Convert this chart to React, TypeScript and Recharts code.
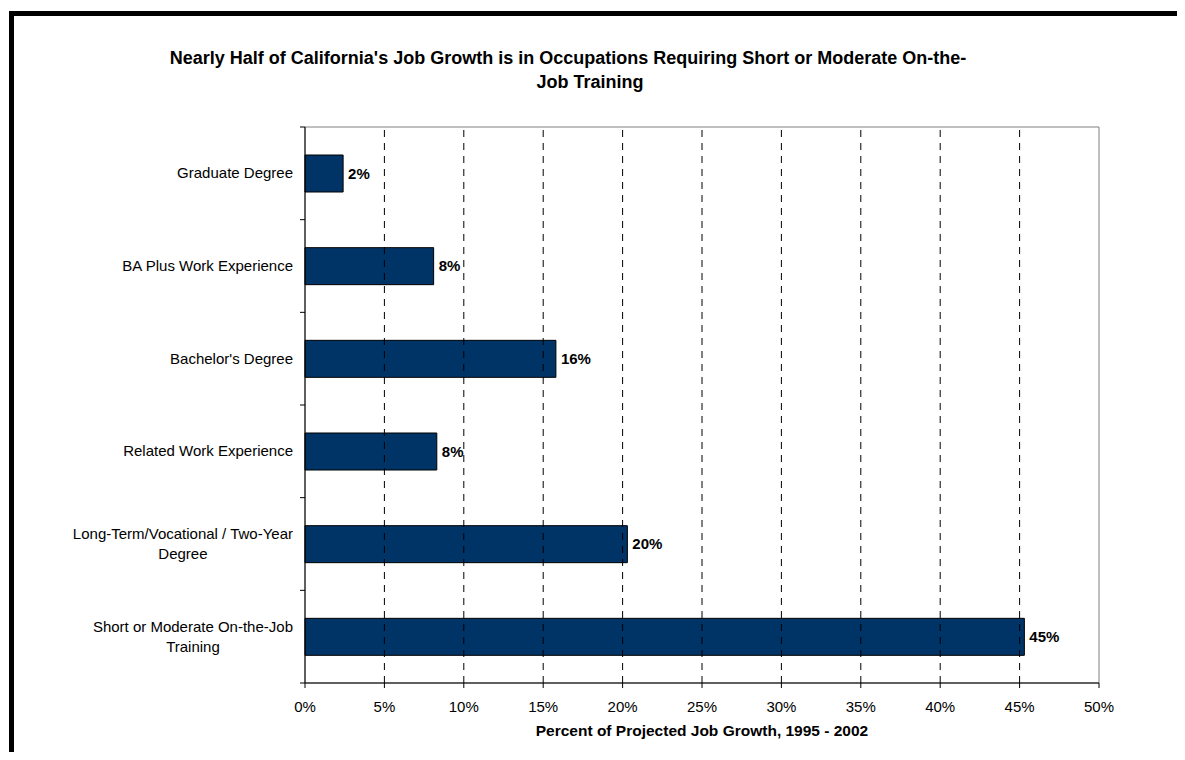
import { BarChart, Bar, XAxis, YAxis, ReferenceLine, ReferenceArea, LabelList } from 'recharts';

const FONT = '"Liberation Sans", Arial, sans-serif';

// categories top to bottom, "\n" marks where Excel wrapped the label
const categories = [
	'Graduate Degree',
	'BA Plus Work Experience',
	"Bachelor's Degree",
	'Related Work Experience',
	'Long-Term/Vocational / Two-Year\nDegree',
	'Short or Moderate On-the-Job\nTraining',
];
const shares = [2.4, 8.1, 15.8, 8.3, 20.3, 45.3];
const xTicks = [0, 5, 10, 15, 20, 25, 30, 35, 40, 45, 50];

const titleLines = [
	"Nearly Half of California's Job Growth is in Occupations Requiring Short or Moderate On-the-",
	'Job Training',
];
const xTitle = 'Percent of Projected Job Growth, 1995 - 2002';

const chartData = categories.map((name, i) => ({ name, value: shares[i] }));

const PLOT_LEFT = 305;
const PLOT_TOP = 127;
const PLOT_BOTTOM = 683;
const BAND = (PLOT_BOTTOM - PLOT_TOP) / categories.length;

const CategoryTick = (props: any) => {
	const { y, payload, index } = props;
	return (
		<g>
			<line x1={PLOT_LEFT - 5} x2={PLOT_LEFT} y1={y - BAND / 2} y2={y - BAND / 2} stroke="#000" />
			{index === categories.length - 1 && (
				<line x1={PLOT_LEFT - 5} x2={PLOT_LEFT} y1={y + BAND / 2} y2={y + BAND / 2} stroke="#000" />
			)}
			<foreignObject x={0} y={y - 30} width={293} height={60}>
				<div
					style={{
						height: '100%',
						display: 'flex',
						alignItems: 'center',
						justifyContent: 'flex-end',
					}}>
					<div
						style={{
							textAlign: 'center',
							whiteSpace: 'pre-line',
							fontFamily: FONT,
							fontSize: 15,
							lineHeight: '20px',
							color: '#000',
						}}>
						{payload.value}
					</div>
				</div>
			</foreignObject>
		</g>
	);
};

const App = () => {
	return (
		<div
			style={{
				position: 'relative',
				width: 1185,
				height: 760,
				margin: -8,
				overflow: 'hidden',
				background: '#fff',
			}}>
			<div
				style={{
					position: 'absolute',
					left: 9,
					top: 11,
					width: 1300,
					height: 900,
					borderTop: '5px solid #000',
					borderLeft: '5px solid #000',
				}}
			/>
			<div style={{ position: 'absolute', left: 0, top: 0 }}>
				<BarChart
					width={1185}
					height={760}
					data={chartData}
					layout="vertical"
					margin={{ top: PLOT_TOP, right: 86, bottom: 47, left: 0 }}>
					{xTicks.slice(1, -1).map((t) => (
						<ReferenceLine key={t} x={t} stroke="#000" strokeDasharray="7 6" />
					))}
					<ReferenceArea x1={0} x2={50} fill="none" stroke="#808080" />
					<XAxis
						type="number"
						domain={[0, 50]}
						ticks={xTicks}
						tickFormatter={(v) => `${v}%`}
						height={30}
						tickSize={5}
						tickMargin={13}
						axisLine={{ stroke: '#000' }}
						tickLine={{ stroke: '#000' }}
						tick={{ fill: '#000', fontSize: 15, fontFamily: FONT }}
					/>
					<YAxis
						type="category"
						dataKey="name"
						width={PLOT_LEFT}
						axisLine={{ stroke: '#000' }}
						tickLine={false}
						tick={<CategoryTick />}
						interval={0}
					/>
					<Bar dataKey="value" fill="#003366" stroke="#000" strokeWidth={1} barSize={37} isAnimationActive={false}>
						<LabelList
							dataKey="value"
							position="right"
							offset={5}
							formatter={(v: any) => `${Math.round(Number(v))}%`}
							fill="#000"
							fontSize={15}
							fontWeight="bold"
							fontFamily={FONT}
						/>
					</Bar>
				</BarChart>
			</div>
			<svg
				width={1185}
				height={760}
				style={{ position: 'absolute', left: 0, top: 0, pointerEvents: 'none' }}>
				<text x={568} y={64} textAnchor="middle" fontFamily={FONT} fontSize={18} fontWeight="bold" fill="#000">
					{titleLines[0]}
				</text>
				<text x={590} y={88} textAnchor="middle" fontFamily={FONT} fontSize={18} fontWeight="bold" fill="#000">
					{titleLines[1]}
				</text>
				<text x={702} y={736} textAnchor="middle" fontFamily={FONT} fontSize={15.5} fontWeight="bold" fill="#000">
					{xTitle}
				</text>
			</svg>
		</div>
	);
};

export default App;
